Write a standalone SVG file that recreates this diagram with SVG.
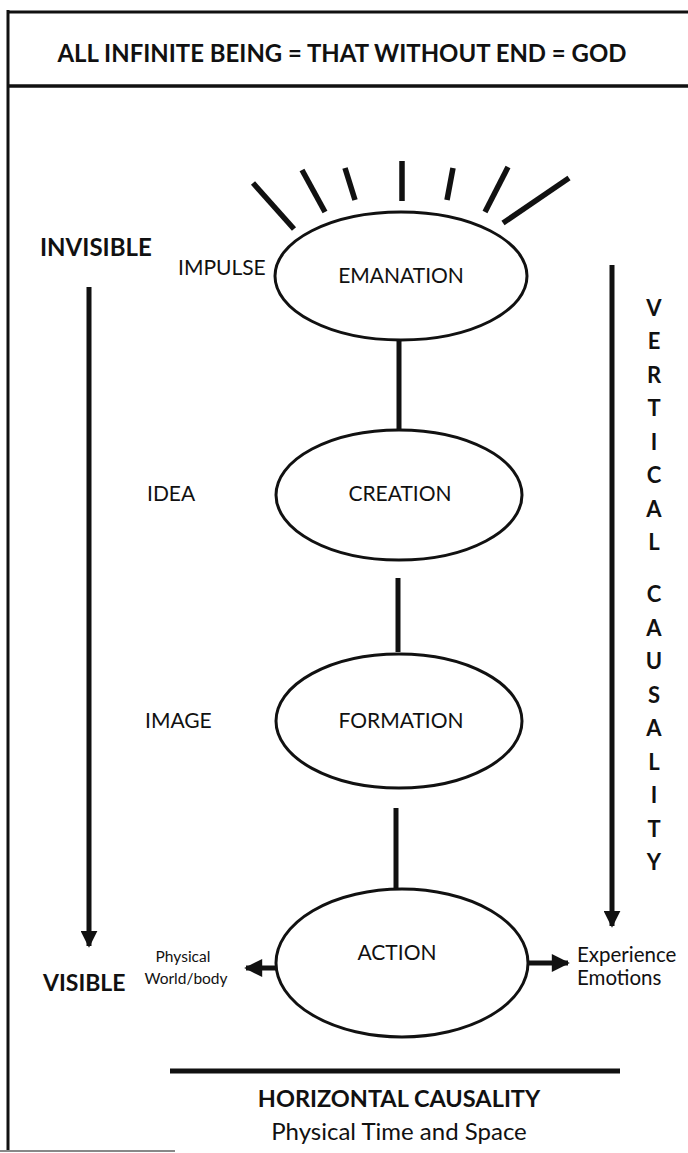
<svg xmlns="http://www.w3.org/2000/svg" width="688" height="1153" viewBox="0 0 688 1153">
<style>
text{font-family:Lato,"Open Sans","Liberation Sans",sans-serif;fill:#111}
.lbl{font-size:21px}
.b{font-weight:bold}
.node ellipse{fill:#fff;stroke:#111;stroke-width:3}
.c line{stroke:#111;stroke-width:5}
.ray line{stroke:#111;stroke-width:5.5}
.vc text{font-size:22px;font-weight:bold;text-anchor:middle}
</style>
<defs>
<marker id="ah" viewBox="0 0 10 10" refX="9" refY="5" markerWidth="3.4" markerHeight="3.4" orient="auto" markerUnits="strokeWidth">
<path d="M0,0 L10,5 L0,10 z" fill="#111"/>
</marker>
<marker id="ahs" viewBox="0 0 10 10" refX="9" refY="5" markerWidth="4" markerHeight="3.6" orient="auto" markerUnits="strokeWidth">
<path d="M0,0 L10,5 L0,10 z" fill="#111"/>
</marker>
</defs>
<g id="frame">
<line x1="8" y1="10" x2="8" y2="1152" stroke="#111" stroke-width="3"/>
<line x1="7" y1="12" x2="688" y2="12" stroke="#111" stroke-width="3"/>
<line x1="7" y1="86" x2="688" y2="86" stroke="#111" stroke-width="3.5"/>
<line x1="0" y1="1151" x2="175" y2="1151" stroke="#888" stroke-width="2"/>
</g>
<g id="title">
<text x="342" y="62" font-size="25" font-weight="bold" text-anchor="middle" textLength="569" lengthAdjust="spacingAndGlyphs">ALL INFINITE BEING = THAT WITHOUT END = GOD</text>
</g>
<g id="rays" class="ray">
<line x1="253" y1="183" x2="294" y2="229"/>
<line x1="302" y1="170" x2="325" y2="212"/>
<line x1="345" y1="168" x2="355" y2="200"/>
<line x1="402" y1="161" x2="402" y2="201"/>
<line x1="453" y1="168" x2="447" y2="200"/>
<line x1="508" y1="167" x2="485" y2="212"/>
<line x1="569" y1="178" x2="503" y2="223"/>
</g>
<g id="connectors" class="c">
<line x1="399" y1="340" x2="399" y2="431"/>
<line x1="398" y1="578" x2="398" y2="652"/>
<line x1="396" y1="808" x2="396" y2="889"/>
<line x1="89" y1="287" x2="89" y2="946" marker-end="url(#ah)"/>
<line x1="612" y1="265" x2="612" y2="926" marker-end="url(#ah)"/>
<line x1="276" y1="968" x2="246" y2="968" marker-end="url(#ahs)"/>
<line x1="528" y1="963" x2="568" y2="963" marker-end="url(#ahs)"/>
<line x1="170" y1="1071" x2="620" y2="1071"/>
</g>
<g id="emanation" class="node">
<ellipse cx="401" cy="276" rx="126" ry="64"/>
<text class="lbl" x="401" y="283" text-anchor="middle">EMANATION</text>
</g>
<g id="creation" class="node">
<ellipse cx="399" cy="495" rx="123" ry="65"/>
<text class="lbl" x="400" y="501" text-anchor="middle">CREATION</text>
</g>
<g id="formation" class="node">
<ellipse cx="399" cy="721" rx="123" ry="67"/>
<text class="lbl" x="401" y="728" text-anchor="middle">FORMATION</text>
</g>
<g id="action" class="node">
<ellipse cx="402" cy="963" rx="126" ry="74"/>
<text class="lbl" x="397" y="960" text-anchor="middle">ACTION</text>
</g>
<g id="labels">
<text class="lbl" x="178" y="275" font-size="20">IMPULSE</text>
<text class="lbl" x="147" y="501">IDEA</text>
<text class="lbl" x="145" y="728">IMAGE</text>
<text class="b" x="40" y="256" font-size="24">INVISIBLE</text>
<text class="b" x="43" y="991" font-size="23">VISIBLE</text>
<text x="183" y="962" font-size="15.5" text-anchor="middle">Physical</text>
<text x="186" y="984" font-size="15.5" text-anchor="middle">World/body</text>
<text x="577" y="962" font-size="20.5">Experience</text>
<text x="577" y="985" font-size="20.5">Emotions</text>
<text class="b" x="399" y="1107" font-size="23.5" text-anchor="middle">HORIZONTAL CAUSALITY</text>
<text x="399" y="1140" font-size="24" text-anchor="middle">Physical Time and Space</text>
</g>
<g id="vertical-causality" class="vc">
<text x="654" y="316">V</text>
<text x="654" y="349">E</text>
<text x="654" y="383">R</text>
<text x="654" y="416">T</text>
<text x="654" y="450">I</text>
<text x="654" y="483">C</text>
<text x="654" y="517">A</text>
<text x="654" y="550">L</text>
<text x="654" y="602">C</text>
<text x="654" y="636">A</text>
<text x="654" y="669">U</text>
<text x="654" y="703">S</text>
<text x="654" y="736">A</text>
<text x="654" y="770">L</text>
<text x="654" y="803">I</text>
<text x="654" y="837">T</text>
<text x="654" y="870">Y</text>
</g>
</svg>
